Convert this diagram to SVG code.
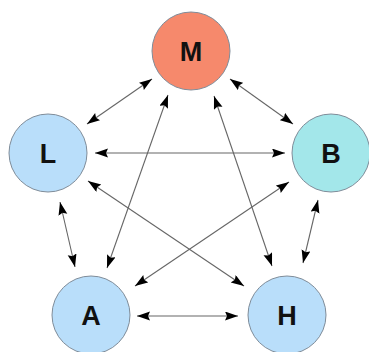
<svg xmlns="http://www.w3.org/2000/svg" width="369" height="352" viewBox="0 0 369 352">
<style>
.node circle{stroke:#7f8c99;stroke-width:1}
.node text{font-family:"Liberation Sans",Arial,sans-serif;font-weight:bold;font-size:27px;fill:#111;text-anchor:middle;dominant-baseline:central}
.edge{stroke:#666;stroke-width:1.1;fill:none;marker-start:url(#ah);marker-end:url(#ah)}
</style>
<defs>
<marker id="ah" markerUnits="userSpaceOnUse" markerWidth="14" markerHeight="10" refX="13" refY="4.5" orient="auto-start-reverse" viewBox="0 0 14 10">
<path d="M0,0 L13,4.5 L0,9 L2,4.5 z" fill="#000"/>
</marker>
</defs>
<rect width="369" height="352" fill="#fff"/>
<g id="connectors">
<line class="edge" x1="152" y1="79" x2="87" y2="124"/>
<line class="edge" x1="230" y1="79" x2="293" y2="124"/>
<line class="edge" x1="168" y1="95" x2="107" y2="268"/>
<line class="edge" x1="214" y1="96" x2="272" y2="266"/>
<line class="edge" x1="95" y1="153" x2="285" y2="153"/>
<line class="edge" x1="88" y1="181" x2="244" y2="286"/>
<line class="edge" x1="135" y1="286" x2="289" y2="182"/>
<line class="edge" x1="60" y1="202" x2="75" y2="267"/>
<line class="edge" x1="318" y1="200" x2="303" y2="263"/>
<line class="edge" x1="137" y1="316" x2="238" y2="316"/>
</g>
<g id="M" class="node"><circle cx="191" cy="51" r="39" fill="#f6896c"/><text x="191" y="52">M</text></g>
<g id="L" class="node"><circle cx="48" cy="153" r="39" fill="#b9defa"/><text x="48" y="154">L</text></g>
<g id="B" class="node"><circle cx="331" cy="153" r="39" fill="#a3e7ea"/><text x="331" y="154">B</text></g>
<g id="A" class="node"><circle cx="91" cy="315" r="39" fill="#b9defa"/><text x="91" y="316">A</text></g>
<g id="H" class="node"><circle cx="287" cy="315" r="39" fill="#b9defa"/><text x="287" y="316">H</text></g>
</svg>
